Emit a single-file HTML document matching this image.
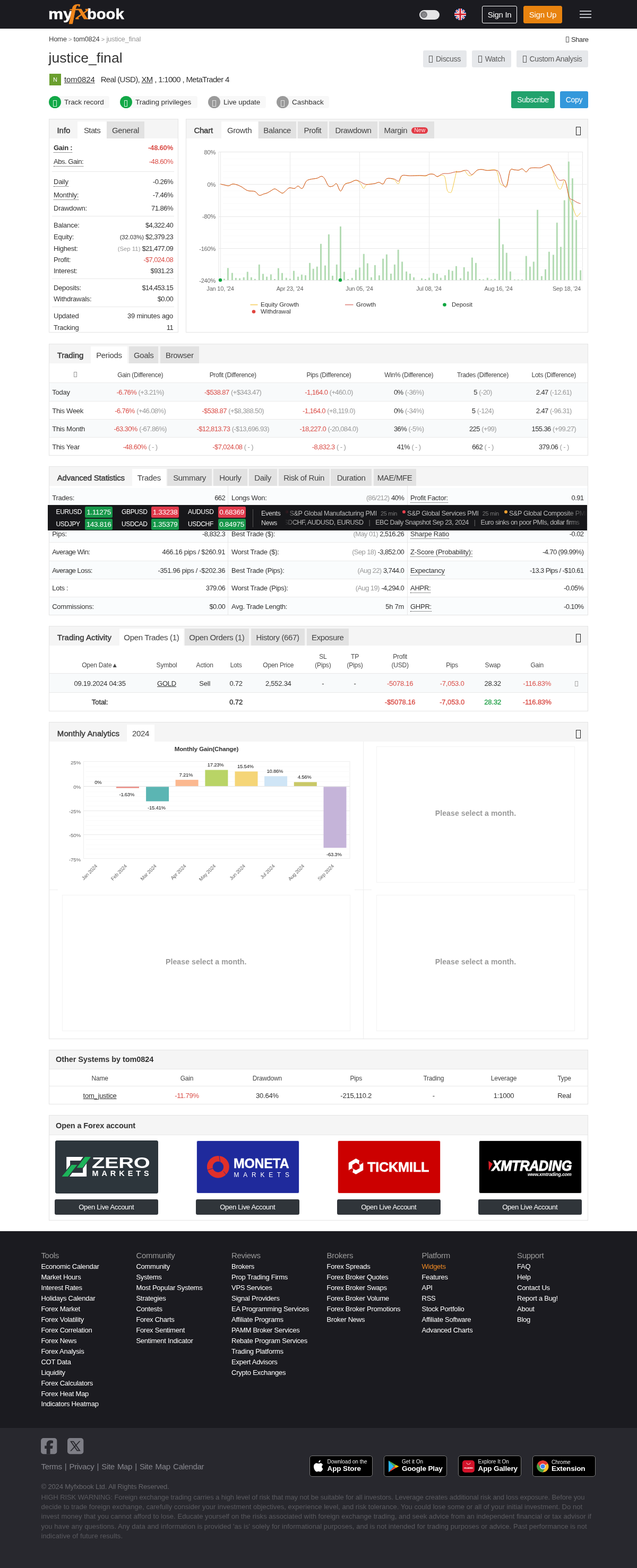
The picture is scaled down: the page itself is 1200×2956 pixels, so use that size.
<!DOCTYPE html>
<html lang="en">
<head>
<meta charset="utf-8">
<title>justice_final System by tom0824 | Myfxbook</title>
<style>
*{box-sizing:border-box}
html,body{margin:0;padding:0}
body{width:1200px;height:2956px;position:relative;overflow:hidden;background:#fff;color:#333;
 font-family:"Liberation Sans",sans-serif;font-size:13px;line-height:1;letter-spacing:-0.25px}
a{color:inherit;text-decoration:none}
.abs{position:absolute}
.u{text-decoration:underline}
.red{color:#da4e48}
.sb{-webkit-text-stroke:0.35px currentColor;letter-spacing:-0.1px}
.grn{color:#27a24c}
.gry{color:#999}
.b{font-weight:bold}
.n{letter-spacing:-0.6px}
.tofu{display:inline-block;border:1px solid currentColor;vertical-align:middle}
/* header */
#hdr{position:absolute;left:0;top:0;width:1200px;height:54px;background:#1b1b20}
#logo{position:absolute;left:91px;top:0;height:54px;color:#fff;white-space:nowrap}
#logo .my{position:absolute;left:0;top:14px;font-weight:bold;font-size:27px;letter-spacing:0;transform:scaleX(1.17);transform-origin:0 0;-webkit-text-stroke:0.5px #fff}
#logo .fx{position:absolute;left:39px;top:2px;font-family:"Liberation Serif",serif;font-style:italic;font-weight:bold;font-size:41px;color:#f0861b;letter-spacing:-3px;transform:scaleX(1.22);transform-origin:0 0;z-index:2;-webkit-text-stroke:0.4px #f0861b}
#logo .book{position:absolute;left:73px;top:14px;font-weight:bold;font-size:27px;letter-spacing:0;transform:scaleX(1.08);transform-origin:0 0;-webkit-text-stroke:0.5px #fff}
.hbtn{position:absolute;top:11px;height:33px;border-radius:3px;font-size:15px;line-height:31px;text-align:center;color:#fff;letter-spacing:-0.3px}
/* panels */
.panel{position:absolute;border:1px solid #e4e4e4;background:#fff}
.phead{position:absolute;left:0;top:0;right:0;height:36px;background:#f5f5f5}
.tab{position:absolute;top:4px;height:32px;line-height:33px;font-size:15px;text-align:center;color:#444;letter-spacing:-0.35px;white-space:nowrap}
.tab.g{background:#e2e2e2}
.tab.w{background:#fff;top:4px;height:32px;line-height:33px}
.tab.l{font-weight:normal;color:#3a3a3a;background:none;letter-spacing:-0.15px;-webkit-text-stroke:0.45px #3a3a3a}
.row{position:absolute;left:0;right:0;white-space:nowrap}
.lbl{position:absolute;left:0;top:0}
.val{position:absolute;right:0;top:0;text-align:right}
.dot{border-bottom:1px dotted #333;padding-bottom:1px}
.c{position:absolute;text-align:center;white-space:nowrap;transform:translateX(-50%)}
.hl{position:absolute;height:1px;background:#e8e8e8}
.vl{position:absolute;width:1px;background:#e8e8e8}
</style>
</head>
<body>
<div id="hdr">
  <div id="logo"><span class="my">my</span><span class="fx">fx</span><span class="book">book</span></div>
  <div class="abs" style="left:790px;top:19px;width:38px;height:18px;border-radius:9px;background:#e4e4e6">
    <div class="abs" style="left:2.2px;top:2.3px;width:13.2px;height:13.2px;border-radius:7px;background:#7a7a7e"></div>
    <div class="abs" style="left:5.800px;top:5.900px;width:6px;height:6px;border-radius:3px;border:1px solid #a2a2a6"></div>
  </div>
  <svg class="abs" style="left:856px;top:16px;border-radius:50%;overflow:hidden" width="22" height="22" viewBox="0 0 24 24">
    <g>
      <rect width="24" height="24" fill="#1b3a8c"/>
      <path d="M0 0L24 24M24 0L0 24" stroke="#fff" stroke-width="4"/>
      <path d="M0 0L24 24M24 0L0 24" stroke="#d21f2d" stroke-width="1.3"/>
      <path d="M12 0V24M0 12H24" stroke="#fff" stroke-width="6.800"/>
      <path d="M12 0V24M0 12H24" stroke="#d21f2d" stroke-width="3.400"/>
    </g>
  </svg>
  <div class="hbtn" style="left:908px;width:66px;border:1px solid #fff">Sign In</div>
  <div class="hbtn" style="left:986px;width:73px;background:#e8830f;border:1px solid #e8830f">Sign Up</div>
  <div class="abs" style="left:1092px;top:20px;width:22px;height:2px;background:#bfc2c8"></div>
  <div class="abs" style="left:1092px;top:26px;width:22px;height:2px;background:#bfc2c8"></div>
  <div class="abs" style="left:1092px;top:32px;width:22px;height:2px;background:#bfc2c8"></div>
</div>

<!-- breadcrumb / title -->
<div class="abs" style="left:92px;top:67px;font-size:13px;letter-spacing:-0.25px;white-space:nowrap;color:#444">Home <span class="gry" style="font-size:11px">&gt;</span> tom0824 <span class="gry" style="font-size:11px">&gt;</span> <span class="gry">justice_final</span></div>
<div class="abs" style="left:1066px;top:68px;font-size:13px;letter-spacing:-0.4px;white-space:nowrap;color:#333"><span class="tofu" style="width:6px;height:11px;margin:-2px 4px 0 0;color:#666"></span>Share</div>
<h1 class="abs" style="left:91.5px;top:95.5px;margin:0;font-size:26.5px;font-weight:normal;letter-spacing:0.05px;color:#333;white-space:nowrap">justice_final</h1>

<div class="abs" style="left:797px;top:95px;width:82px;height:32px;border-radius:3px;background:#e6e8eb;color:#5c5c5c;font-size:14px;line-height:32px;text-align:center;letter-spacing:-0.3px"><span class="tofu" style="width:7px;height:13px;margin:-1px 6px 0 0"></span>Discuss</div>
<div class="abs" style="left:889px;top:95px;width:74px;height:32px;border-radius:3px;background:#e6e8eb;color:#5c5c5c;font-size:14px;line-height:32px;text-align:center;letter-spacing:-0.3px"><span class="tofu" style="width:7px;height:13px;margin:-1px 6px 0 0"></span>Watch</div>
<div class="abs" style="left:973px;top:95px;width:135px;height:32px;border-radius:3px;background:#e6e8eb;color:#5c5c5c;font-size:14px;line-height:32px;text-align:center;letter-spacing:-0.3px"><span class="tofu" style="width:7px;height:13px;margin:-1px 6px 0 0"></span>Custom Analysis</div>

<div class="abs" style="left:93px;top:139px;width:22px;height:22px;background:#6a9f2e;color:#fff;font-size:11px;line-height:22px;text-align:center;letter-spacing:0">N</div>
<div class="abs" style="left:121px;top:142px;font-size:15px;letter-spacing:-0.3px;white-space:nowrap;color:#333"><span class="u" style="letter-spacing:-0.1px">tom0824</span><span style="display:inline-block;width:11px"></span><span style="letter-spacing:-0.68px">Real (USD), <span class="u">XM</span> , 1:1000 , MetaTrader 4</span></div>

<!-- badges -->
<div class="abs" style="left:100px;top:181px;width:106px;height:23px;background:#f8f8f8;border-radius:4px"></div>
<div class="abs" style="left:234px;top:181px;width:138px;height:23px;background:#f8f8f8;border-radius:4px"></div>
<div class="abs" style="left:400px;top:181px;width:101px;height:23px;background:#f8f8f8;border-radius:4px"></div>
<div class="abs" style="left:530px;top:181px;width:90px;height:23px;background:#f8f8f8;border-radius:4px"></div>
<div class="abs" style="left:92px;top:181px;width:23px;height:23px;border-radius:12px;background:#12a847;color:#d8f5e0"><span class="tofu abs" style="left:8px;top:7.5px;width:6.5px;height:12.5px"></span></div>
<div class="abs" style="left:225.5px;top:181px;width:23px;height:23px;border-radius:12px;background:#12a847;color:#d8f5e0"><span class="tofu abs" style="left:8px;top:7.5px;width:6.5px;height:12.5px"></span></div>
<div class="abs" style="left:392px;top:181px;width:23px;height:23px;border-radius:12px;background:#9a9a9a;color:#e4e4e4"><span class="tofu abs" style="left:8px;top:7.5px;width:6.5px;height:12.5px"></span></div>
<div class="abs" style="left:521px;top:181px;width:23px;height:23px;border-radius:12px;background:#9a9a9a;color:#e4e4e4"><span class="tofu abs" style="left:8px;top:7.5px;width:6.5px;height:12.5px"></span></div>
<div class="abs" style="left:121px;top:186px;font-size:13.5px;letter-spacing:-0.05px;white-space:nowrap;color:#333">Track record</div>
<div class="abs" style="left:255px;top:186px;font-size:13.5px;letter-spacing:-0.05px;white-space:nowrap;color:#333">Trading privileges</div>
<div class="abs" style="left:421px;top:186px;font-size:13.5px;letter-spacing:-0.05px;white-space:nowrap;color:#333">Live update</div>
<div class="abs" style="left:550px;top:186px;font-size:13.5px;letter-spacing:-0.05px;white-space:nowrap;color:#333">Cashback</div>

<div class="abs" style="left:963px;top:172px;width:82px;height:32px;border-radius:3px;background:#21a26c;color:#fff;font-size:14px;line-height:32px;text-align:center;letter-spacing:-0.3px">Subscribe</div>
<div class="abs" style="left:1055px;top:172px;width:53px;height:32px;border-radius:3px;background:#3498db;color:#fff;font-size:14px;line-height:32px;text-align:center;letter-spacing:-0.3px">Copy</div>
<div class="panel" style="left:92px;top:224px;width:244px;height:403px">
<div class="phead"></div>
<div class="tab l" style="left:14.5px;text-align:left;letter-spacing:-0.06px">Info</div>
<div class="tab w" style="left:53px;width:55px;letter-spacing:-0.6px">Stats</div>
<div class="tab g" style="left:108px;width:71px">General</div>
<div class="row" style="top:47.3px;left:8px;right:9px;height:14px;line-height:14px"><span class="lbl"><span class="dot b">Gain :</span></span><span class="val" style="letter-spacing:-0.65px"><span class="red b" style="letter-spacing:-0.2px">-48.60%</span></span></div>
<div class="row" style="top:72.5px;left:8px;right:9px;height:14px;line-height:14px"><span class="lbl"><span class="dot" style="letter-spacing:-0.45px">Abs. Gain:</span></span><span class="val" style="letter-spacing:-0.65px"><span class="red" style="letter-spacing:-0.45px">-48.60%</span></span></div>
<div class="row" style="top:110.5px;left:8px;right:9px;height:14px;line-height:14px"><span class="lbl"><span class="dot">Daily</span></span><span class="val" style="letter-spacing:-0.65px"><span style="letter-spacing:-0.5px">-0.26%</span></span></div>
<div class="row" style="top:136.0px;left:8px;right:9px;height:14px;line-height:14px"><span class="lbl"><span class="dot">Monthly:</span></span><span class="val" style="letter-spacing:-0.65px"><span style="letter-spacing:-0.5px">-7.46%</span></span></div>
<div class="row" style="top:160.9px;left:8px;right:9px;height:14px;line-height:14px"><span class="lbl">Drawdown:</span><span class="val" style="letter-spacing:-0.65px"><span style="letter-spacing:-0.5px">71.86%</span></span></div>
<div class="row" style="top:192.6px;left:8px;right:9px;height:14px;line-height:14px"><span class="lbl">Balance:</span><span class="val" style="letter-spacing:-0.65px">$4,322.40</span></div>
<div class="row" style="top:214.8px;left:8px;right:9px;height:14px;line-height:14px"><span class="lbl">Equity:</span><span class="val" style="letter-spacing:-0.65px"><span style="font-size:11.4px;letter-spacing:-0.1px">(32.03%)</span> $2,379.23</span></div>
<div class="row" style="top:236.6px;left:8px;right:9px;height:14px;line-height:14px"><span class="lbl">Highest:</span><span class="val" style="letter-spacing:-0.65px"><span class="gry" style="font-size:11.4px;letter-spacing:0">(Sep 11)</span> $21,477.09</span></div>
<div class="row" style="top:257.7px;left:8px;right:9px;height:14px;line-height:14px"><span class="lbl">Profit:</span><span class="val" style="letter-spacing:-0.65px"><span class="red">-$7,024.08</span></span></div>
<div class="row" style="top:279.1px;left:8px;right:9px;height:14px;line-height:14px"><span class="lbl">Interest:</span><span class="val" style="letter-spacing:-0.65px">$931.23</span></div>
<div class="row" style="top:310.8px;left:8px;right:9px;height:14px;line-height:14px"><span class="lbl">Deposits:</span><span class="val" style="letter-spacing:-0.65px">$14,453.15</span></div>
<div class="row" style="top:331.8px;left:8px;right:9px;height:14px;line-height:14px"><span class="lbl">Withdrawals:</span><span class="val" style="letter-spacing:-0.65px">$0.00</span></div>
<div class="row" style="top:363.6px;left:8px;right:9px;height:14px;line-height:14px"><span class="lbl">Updated</span><span class="val" style="letter-spacing:-0.65px"><span style="letter-spacing:-0.2px">39 minutes ago</span></span></div>
<div class="row" style="top:385.8px;left:8px;right:9px;height:14px;line-height:14px"><span class="lbl">Tracking</span><span class="val" style="letter-spacing:-0.65px">11</span></div>
<div class="hl" style="left:5px;right:7px;top:98px"></div>
<div class="hl" style="left:5px;right:7px;top:182px"></div>
<div class="hl" style="left:5px;right:7px;top:300px"></div>
<div class="hl" style="left:5px;right:7px;top:353px"></div>
</div>
<div class="panel" style="left:350px;top:224px;width:758px;height:403px">
<div class="phead"></div>
<div class="tab l" style="left:14.5px;text-align:left;letter-spacing:-0.28px">Chart</div>
<div class="tab w" style="left:65.5px;width:69px">Growth</div>
<div class="tab g" style="left:135.5px;width:71.5px">Balance</div>
<div class="tab g" style="left:210px;width:56px">Profit</div>
<div class="tab g" style="left:269px;width:91px">Drawdown</div>
<div class="tab g" style="left:362.5px;width:104.5px;text-align:left;padding-left:10px">Margin<span style="display:inline-block;margin-left:8px;background:#e23a45;color:#ffe3e5;font-size:10.5px;line-height:11.5px;height:11.5px;padding:0 5px;border-radius:6px;vertical-align:2px;letter-spacing:0">New</span></div>
<span class="tofu abs" style="left:734px;top:14px;width:9px;height:16px;color:#222"></span>
<svg class="abs" style="left:0;top:0" width="756" height="401" viewBox="351 225 756 401" font-family="Liberation Sans, sans-serif">
<rect x="412.0" y="286.5" width="685.5" height="242.0" fill="#fff" stroke="#e5e5e5" stroke-width="1"/>
<path d="M420.0 299.5H1097.5" stroke="#fafafa" stroke-width="1"/>
<path d="M420.0 311.5H1097.5" stroke="#fafafa" stroke-width="1"/>
<path d="M420.0 323.5H1097.5" stroke="#fafafa" stroke-width="1"/>
<path d="M420.0 335.5H1097.5" stroke="#fafafa" stroke-width="1"/>
<path d="M412.0 347.5H1105.5" stroke="#e7e7e7" stroke-width="1"/>
<path d="M420.0 359.5H1097.5" stroke="#fafafa" stroke-width="1"/>
<path d="M420.0 371.5H1097.5" stroke="#fafafa" stroke-width="1"/>
<path d="M420.0 383.5H1097.5" stroke="#fafafa" stroke-width="1"/>
<path d="M420.0 395.5H1097.5" stroke="#fafafa" stroke-width="1"/>
<path d="M412.0 408.5H1105.5" stroke="#e7e7e7" stroke-width="1"/>
<path d="M420.0 420.5H1097.5" stroke="#fafafa" stroke-width="1"/>
<path d="M420.0 432.5H1097.5" stroke="#fafafa" stroke-width="1"/>
<path d="M420.0 444.5H1097.5" stroke="#fafafa" stroke-width="1"/>
<path d="M420.0 456.5H1097.5" stroke="#fafafa" stroke-width="1"/>
<path d="M412.0 468.5H1105.5" stroke="#e7e7e7" stroke-width="1"/>
<path d="M420.0 480.5H1097.5" stroke="#fafafa" stroke-width="1"/>
<path d="M420.0 492.5H1097.5" stroke="#fafafa" stroke-width="1"/>
<path d="M420.0 504.5H1097.5" stroke="#fafafa" stroke-width="1"/>
<path d="M420.0 516.5H1097.5" stroke="#fafafa" stroke-width="1"/>
<path d="M415.5 286.5V528.5" stroke="#e9e9e9" stroke-width="1"/>
<path d="M546.5 286.5V528.5" stroke="#e9e9e9" stroke-width="1"/>
<path d="M677.5 286.5V528.5" stroke="#e9e9e9" stroke-width="1"/>
<path d="M808.5 286.5V528.5" stroke="#e9e9e9" stroke-width="1"/>
<path d="M939.5 286.5V528.5" stroke="#e9e9e9" stroke-width="1"/>
<path d="M1070.5 286.5V528.5" stroke="#e9e9e9" stroke-width="1"/>
<rect x="421.0" y="525.5" width="3" height="2.5" fill="#b3dbb3"/>
<rect x="427.9" y="505.3" width="3" height="22.7" fill="#b3dbb3"/>
<rect x="435.9" y="514.5" width="3" height="13.5" fill="#b3dbb3"/>
<rect x="442.8" y="523.9" width="3" height="4.1" fill="#b3dbb3"/>
<rect x="450.1" y="524.6" width="3" height="3.4" fill="#b3dbb3"/>
<rect x="457.7" y="522.8" width="3" height="5.2" fill="#b3dbb3"/>
<rect x="464.8" y="512.4" width="3" height="15.6" fill="#b3dbb3"/>
<rect x="471.9" y="522.8" width="3" height="5.2" fill="#b3dbb3"/>
<rect x="478.8" y="525.8" width="3" height="2.2" fill="#b3dbb3"/>
<rect x="486.8" y="498.7" width="3" height="29.3" fill="#b3dbb3"/>
<rect x="494.0" y="516.3" width="3" height="11.7" fill="#b3dbb3"/>
<rect x="501.1" y="521.6" width="3" height="6.4" fill="#b3dbb3"/>
<rect x="508.9" y="517.3" width="3" height="10.7" fill="#b3dbb3"/>
<rect x="516.0" y="526.0" width="3" height="2.0" fill="#b3dbb3"/>
<rect x="522.9" y="505.6" width="3" height="22.4" fill="#b3dbb3"/>
<rect x="530.0" y="514.7" width="3" height="13.3" fill="#b3dbb3"/>
<rect x="537.8" y="523.7" width="3" height="4.3" fill="#b3dbb3"/>
<rect x="544.9" y="525.5" width="3" height="2.5" fill="#b3dbb3"/>
<rect x="552.0" y="510.6" width="3" height="17.4" fill="#b3dbb3"/>
<rect x="560.0" y="521.6" width="3" height="6.4" fill="#b3dbb3"/>
<rect x="566.9" y="517.7" width="3" height="10.3" fill="#b3dbb3"/>
<rect x="574.0" y="518.9" width="3" height="9.1" fill="#b3dbb3"/>
<rect x="582.1" y="495.7" width="3" height="32.3" fill="#b3dbb3"/>
<rect x="588.7" y="506.7" width="3" height="21.3" fill="#b3dbb3"/>
<rect x="595.8" y="502.6" width="3" height="25.4" fill="#b3dbb3"/>
<rect x="603.0" y="459.7" width="3" height="68.3" fill="#b3dbb3"/>
<rect x="611.0" y="500.5" width="3" height="27.5" fill="#b3dbb3"/>
<rect x="617.9" y="441.8" width="3" height="86.2" fill="#b3dbb3"/>
<rect x="625.0" y="519.8" width="3" height="8.2" fill="#b3dbb3"/>
<rect x="632.8" y="498.7" width="3" height="29.3" fill="#b3dbb3"/>
<rect x="640.0" y="426.9" width="3" height="101.1" fill="#b3dbb3"/>
<rect x="646.9" y="512.4" width="3" height="15.6" fill="#b3dbb3"/>
<rect x="654.2" y="526.0" width="3" height="2.0" fill="#b3dbb3"/>
<rect x="661.8" y="523.9" width="3" height="4.1" fill="#b3dbb3"/>
<rect x="668.9" y="508.5" width="3" height="19.5" fill="#b3dbb3"/>
<rect x="676.0" y="504.4" width="3" height="23.6" fill="#b3dbb3"/>
<rect x="683.8" y="478.7" width="3" height="49.3" fill="#b3dbb3"/>
<rect x="690.9" y="496.4" width="3" height="31.6" fill="#b3dbb3"/>
<rect x="698.0" y="522.8" width="3" height="5.2" fill="#b3dbb3"/>
<rect x="704.9" y="499.8" width="3" height="28.2" fill="#b3dbb3"/>
<rect x="712.9" y="519.1" width="3" height="8.9" fill="#b3dbb3"/>
<rect x="720.1" y="487.7" width="3" height="40.3" fill="#b3dbb3"/>
<rect x="726.9" y="479.6" width="3" height="48.4" fill="#b3dbb3"/>
<rect x="735.0" y="515.9" width="3" height="12.1" fill="#b3dbb3"/>
<rect x="741.9" y="498.7" width="3" height="29.3" fill="#b3dbb3"/>
<rect x="748.7" y="470.7" width="3" height="57.3" fill="#b3dbb3"/>
<rect x="756.1" y="493.4" width="3" height="34.6" fill="#b3dbb3"/>
<rect x="764.1" y="511.8" width="3" height="16.2" fill="#b3dbb3"/>
<rect x="771.0" y="515.9" width="3" height="12.1" fill="#b3dbb3"/>
<rect x="778.1" y="522.8" width="3" height="5.2" fill="#b3dbb3"/>
<rect x="793.0" y="524.6" width="3" height="3.4" fill="#b3dbb3"/>
<rect x="799.9" y="526.0" width="3" height="2.0" fill="#b3dbb3"/>
<rect x="807.0" y="523.5" width="3" height="4.5" fill="#b3dbb3"/>
<rect x="815.1" y="514.7" width="3" height="13.3" fill="#b3dbb3"/>
<rect x="821.9" y="516.3" width="3" height="11.7" fill="#b3dbb3"/>
<rect x="828.8" y="523.7" width="3" height="4.3" fill="#b3dbb3"/>
<rect x="836.9" y="518.9" width="3" height="9.1" fill="#b3dbb3"/>
<rect x="844.0" y="508.5" width="3" height="19.5" fill="#b3dbb3"/>
<rect x="850.8" y="510.6" width="3" height="17.4" fill="#b3dbb3"/>
<rect x="858.0" y="501.7" width="3" height="26.3" fill="#b3dbb3"/>
<rect x="866.1" y="524.6" width="3" height="3.4" fill="#b3dbb3"/>
<rect x="872.7" y="503.7" width="3" height="24.3" fill="#b3dbb3"/>
<rect x="880.1" y="511.8" width="3" height="16.2" fill="#b3dbb3"/>
<rect x="887.9" y="485.6" width="3" height="42.4" fill="#b3dbb3"/>
<rect x="895.0" y="495.7" width="3" height="32.3" fill="#b3dbb3"/>
<rect x="902.1" y="526.0" width="3" height="2.0" fill="#b3dbb3"/>
<rect x="909.0" y="526.7" width="3" height="1.3" fill="#b3dbb3"/>
<rect x="916.8" y="523.7" width="3" height="4.3" fill="#b3dbb3"/>
<rect x="924.1" y="526.7" width="3" height="1.3" fill="#b3dbb3"/>
<rect x="931.0" y="525.8" width="3" height="2.2" fill="#b3dbb3"/>
<rect x="939.0" y="412.4" width="3" height="115.6" fill="#b3dbb3"/>
<rect x="945.9" y="460.6" width="3" height="67.4" fill="#b3dbb3"/>
<rect x="952.8" y="476.6" width="3" height="51.4" fill="#b3dbb3"/>
<rect x="959.9" y="511.8" width="3" height="16.2" fill="#b3dbb3"/>
<rect x="968.0" y="526.9" width="3" height="1.1" fill="#b3dbb3"/>
<rect x="974.8" y="526.9" width="3" height="1.1" fill="#b3dbb3"/>
<rect x="982.0" y="526.9" width="3" height="1.1" fill="#b3dbb3"/>
<rect x="989.8" y="482.6" width="3" height="45.4" fill="#b3dbb3"/>
<rect x="996.9" y="502.6" width="3" height="25.4" fill="#b3dbb3"/>
<rect x="1003.8" y="493.4" width="3" height="34.6" fill="#b3dbb3"/>
<rect x="1011.1" y="395.6" width="3" height="132.4" fill="#b3dbb3"/>
<rect x="1018.9" y="520.5" width="3" height="7.5" fill="#b3dbb3"/>
<rect x="1026.0" y="507.6" width="3" height="20.4" fill="#b3dbb3"/>
<rect x="1032.9" y="474.6" width="3" height="53.4" fill="#b3dbb3"/>
<rect x="1040.9" y="480.3" width="3" height="47.7" fill="#b3dbb3"/>
<rect x="1047.8" y="419.7" width="3" height="108.3" fill="#b3dbb3"/>
<rect x="1054.9" y="465.4" width="3" height="62.6" fill="#b3dbb3"/>
<rect x="1061.8" y="377.5" width="3" height="150.5" fill="#b3dbb3"/>
<rect x="1069.8" y="304.6" width="3" height="223.4" fill="#b3dbb3"/>
<rect x="1076.9" y="336.2" width="3" height="191.8" fill="#b3dbb3"/>
<rect x="1084.1" y="414.7" width="3" height="113.3" fill="#b3dbb3"/>
<rect x="1092.1" y="509.5" width="3" height="18.5" fill="#b3dbb3"/>
<path d="M415.4 347.0C416.6 347.3 420.4 348.3 422.9 348.8C425.4 349.4 428.6 350.5 431.0 350.2C433.4 349.9 435.5 347.3 437.9 347.0C440.2 346.7 443.1 347.3 445.9 348.2C448.6 349.0 451.8 350.5 455.1 352.3C458.4 354.1 462.5 358.0 466.5 359.4C470.6 360.8 476.8 359.6 480.3 361.0C483.8 362.4 485.8 367.6 488.3 368.3C490.9 369.1 494.0 366.6 496.4 365.8C498.8 365.1 501.1 364.7 503.3 363.8C505.5 362.8 507.9 361.1 510.1 359.9C512.4 358.6 515.1 355.9 517.5 356.0C519.9 356.0 522.7 359.0 525.1 360.3C527.4 361.6 529.9 364.2 531.9 364.2C534.0 364.2 535.6 361.9 537.7 360.3C539.8 358.7 542.3 354.9 545.0 354.1C547.8 353.3 552.3 355.8 554.9 355.3C557.5 354.7 559.0 350.7 561.3 350.7C563.6 350.7 566.9 356.7 569.3 355.3C571.8 353.9 574.4 344.7 576.7 342.0C579.0 339.2 580.3 339.2 583.6 338.3C586.9 337.3 593.9 336.9 597.3 336.0C600.8 335.0 603.2 332.3 605.4 332.3C607.6 332.4 608.9 333.3 611.1 336.2C613.3 339.2 616.6 348.4 619.1 350.7C621.7 353.0 624.8 351.3 627.2 350.7C629.6 350.0 631.8 345.0 634.1 346.5C636.3 348.1 639.0 360.2 641.5 360.3C643.9 360.4 646.6 349.9 649.5 347.2C652.4 344.6 656.4 345.0 659.8 343.8C663.2 342.6 667.7 339.2 670.8 339.7C674.0 340.1 677.1 344.0 679.3 346.5C681.6 349.0 683.2 355.0 685.1 355.3C686.9 355.5 687.5 349.6 690.8 348.2C694.1 346.7 702.1 346.8 705.7 346.1C709.4 345.4 711.2 343.5 713.8 343.6C716.3 343.7 719.4 347.9 721.8 346.8C724.2 345.7 725.4 338.0 728.7 336.7C732.0 335.4 738.9 336.9 742.4 338.5C745.9 340.1 748.1 347.7 750.5 346.5C752.9 345.4 753.9 333.8 757.4 331.4C760.8 329.0 766.9 331.5 772.3 331.4C777.6 331.3 785.9 330.9 790.6 330.9C795.4 331.0 799.2 332.3 802.1 331.9C805.0 331.5 806.6 328.9 809.0 328.4C811.4 327.9 814.6 327.9 817.0 328.6C819.4 329.4 821.9 332.9 823.9 333.2C825.9 333.6 827.4 330.9 829.6 330.9C831.8 330.9 835.6 328.9 837.7 333.2C839.7 337.6 840.8 353.3 842.3 358.0C843.7 362.7 845.4 362.4 846.8 362.6C848.3 362.8 849.4 365.2 851.4 359.2C853.5 353.1 858.1 330.4 859.5 324.7C860.8 319.1 858.6 324.2 860.0 324.1C861.4 323.9 865.6 324.0 868.0 323.6C870.4 323.2 872.7 320.3 874.9 321.3C877.1 322.3 879.6 328.6 881.8 330.0C884.0 331.5 885.9 332.0 888.7 330.5C891.4 329.0 895.9 322.6 899.0 320.8C902.1 319.0 905.3 319.2 908.2 319.2C911.1 319.3 913.1 321.0 917.4 321.3C921.6 321.6 930.7 317.6 934.6 321.3C938.4 325.0 939.3 339.7 941.5 344.2C943.7 348.8 946.3 349.3 948.3 350.0C950.4 350.7 952.5 353.4 954.5 348.8C956.6 344.2 958.7 325.9 961.0 321.3C963.3 316.7 966.4 320.2 969.0 320.2C971.6 320.1 974.6 321.1 977.0 320.8C979.4 320.6 981.6 317.8 983.9 318.3C986.2 318.8 989.1 324.2 991.3 324.1C993.5 323.9 995.2 318.7 997.7 317.4C1000.2 316.2 1003.6 316.4 1006.9 316.3C1010.2 316.1 1015.0 316.9 1018.3 316.3C1021.6 315.6 1024.8 313.0 1027.5 312.1C1030.3 311.3 1033.3 309.1 1035.5 311.0C1037.7 312.8 1039.1 317.5 1041.3 323.6C1043.5 329.7 1046.9 343.6 1049.3 348.8C1051.7 354.1 1054.0 357.8 1056.2 356.4C1058.4 355.0 1061.4 341.7 1063.1 340.1C1064.7 338.5 1065.0 341.5 1066.5 346.5C1068.0 351.6 1070.4 365.2 1072.3 371.8C1074.1 378.4 1075.8 382.2 1078.0 387.8C1080.2 393.5 1083.5 405.3 1086.0 407.4C1088.5 409.4 1092.4 402.0 1093.6 400.9" fill="none" stroke="#f2c230" stroke-width="0.95"/>
<path d="M415.4 347.0C416.6 347.3 420.4 348.3 422.9 348.8C425.4 349.4 428.6 350.5 431.0 350.2C433.4 349.9 435.5 347.3 437.9 347.0C440.2 346.7 443.1 347.3 445.9 348.2C448.6 349.0 451.8 350.5 455.1 352.3C458.4 354.1 462.5 358.0 466.5 359.4C470.6 360.8 476.8 359.6 480.3 361.0C483.8 362.4 485.8 367.6 488.3 368.3C490.9 369.1 494.0 366.6 496.4 365.8C498.8 365.1 501.1 364.7 503.3 363.8C505.5 362.8 507.9 361.1 510.1 359.9C512.4 358.6 515.1 355.9 517.5 356.0C519.9 356.0 522.7 359.0 525.1 360.3C527.4 361.6 529.9 364.2 531.9 364.2C534.0 364.2 535.6 361.9 537.7 360.3C539.8 358.7 542.3 354.9 545.0 354.1C547.8 353.3 552.3 355.8 554.9 355.3C557.5 354.7 559.0 350.7 561.3 350.7C563.6 350.7 566.9 356.7 569.3 355.3C571.8 353.9 574.4 344.7 576.7 342.0C579.0 339.2 580.3 339.2 583.6 338.3C586.9 337.3 593.9 336.9 597.3 336.0C600.8 335.0 603.2 332.3 605.4 332.3C607.6 332.4 608.9 333.3 611.1 336.2C613.3 339.2 616.6 348.4 619.1 350.7C621.7 353.0 624.8 351.3 627.2 350.7C629.6 350.0 631.8 345.0 634.1 346.5C636.3 348.1 639.0 360.1 641.5 360.3C643.9 360.5 646.6 350.3 649.5 347.7C652.4 345.1 656.4 345.5 659.8 344.2C663.2 343.0 667.7 339.8 670.8 339.7C674.0 339.5 676.3 341.8 679.3 343.1C682.3 344.4 685.4 347.2 689.7 347.7C693.9 348.2 701.9 346.7 705.7 346.1C709.6 345.4 711.2 343.5 713.8 343.6C716.3 343.7 719.4 347.9 721.8 346.8C724.2 345.7 725.4 338.2 728.7 336.7C732.0 335.2 738.9 336.6 742.4 337.4C746.0 338.1 748.5 342.5 750.9 341.5C753.3 340.5 753.9 332.6 757.4 330.9C760.8 329.3 766.9 331.4 772.3 331.4C777.6 331.4 785.9 331.0 790.6 330.9C795.4 330.9 799.2 331.3 802.1 330.9C805.0 330.5 806.6 328.8 809.0 328.4C811.4 328.0 814.6 327.9 817.0 328.6C819.4 329.3 821.1 333.0 823.9 332.8C826.6 332.6 830.7 328.4 834.2 327.5C837.7 326.6 842.0 327.6 845.7 327.0C849.4 326.5 854.9 324.5 857.2 324.1C859.5 323.6 858.3 324.1 860.0 324.1C861.7 324.0 865.6 324.0 868.0 323.6C870.4 323.2 872.7 321.6 874.9 321.3C877.1 321.0 879.6 320.5 881.8 321.8C884.0 323.0 885.9 329.5 888.7 329.3C891.4 329.2 895.9 322.4 899.0 320.8C902.1 319.3 905.3 319.6 908.2 319.7C911.1 319.8 913.0 321.0 917.4 321.3C921.8 321.6 931.9 320.2 935.7 321.3C939.6 322.4 939.6 324.1 941.5 328.2C943.3 332.2 945.1 342.8 947.2 346.5C949.3 350.3 952.3 355.6 954.5 351.6C956.7 347.6 958.7 326.3 961.0 321.3C963.3 316.3 966.4 320.2 969.0 320.2C971.6 320.1 974.6 321.1 977.0 320.8C979.4 320.6 981.6 317.8 983.9 318.3C986.2 318.8 989.1 324.2 991.3 324.1C993.5 323.9 995.2 318.7 997.7 317.4C1000.2 316.2 1003.6 316.4 1006.9 316.3C1010.2 316.1 1015.0 316.9 1018.3 316.3C1021.6 315.6 1024.8 313.0 1027.5 312.1C1030.3 311.2 1033.3 309.1 1035.5 310.5C1037.7 312.0 1039.1 317.4 1041.3 321.3C1043.5 325.2 1047.1 332.1 1049.3 335.1C1051.5 338.1 1052.8 339.5 1055.0 340.1C1057.2 340.8 1061.2 338.2 1063.1 339.2C1064.9 340.2 1065.0 341.3 1066.5 346.5C1068.0 351.8 1070.1 366.8 1072.3 371.8C1074.5 376.7 1077.9 375.9 1080.3 377.5C1082.7 379.1 1085.0 380.6 1087.2 381.7C1089.3 382.7 1092.6 383.6 1093.6 383.9" fill="none" stroke="#cb4a2c" stroke-width="0.95"/>
<circle cx="415" cy="528" r="3.2" fill="#0fa640"/>
<circle cx="641" cy="528" r="3.2" fill="#0fa640"/>
<text x="406" y="291.0" text-anchor="end" font-size="11" fill="#666" letter-spacing="-0.2">80%</text>
<text x="406" y="351.5" text-anchor="end" font-size="11" fill="#666" letter-spacing="-0.2">0%</text>
<text x="406" y="412.0" text-anchor="end" font-size="11" fill="#666" letter-spacing="-0.2">-80%</text>
<text x="406" y="472.5" text-anchor="end" font-size="11" fill="#666" letter-spacing="-0.2">-160%</text>
<text x="406" y="533.0" text-anchor="end" font-size="11" fill="#666" letter-spacing="-0.2">-240%</text>
<text x="415" y="547.5" text-anchor="middle" font-size="11" fill="#666" letter-spacing="-0.2">Jan 10, '24</text>
<text x="546" y="547.5" text-anchor="middle" font-size="11" fill="#666" letter-spacing="-0.2">Apr 23, '24</text>
<text x="677" y="547.5" text-anchor="middle" font-size="11" fill="#666" letter-spacing="-0.2">Jun 05, '24</text>
<text x="808" y="547.5" text-anchor="middle" font-size="11" fill="#666" letter-spacing="-0.2">Jul 08, '24</text>
<text x="939" y="547.5" text-anchor="middle" font-size="11" fill="#666" letter-spacing="-0.2">Aug 16, '24</text>
<text x="1094" y="547.5" text-anchor="end" font-size="11" fill="#666" letter-spacing="-0.2">Sep 18, '24</text>
<path d="M471.5 574.5H485.5" stroke="#f7d67a" stroke-width="2"/>
<text x="491" y="578" font-size="11.5" fill="#333" letter-spacing="0">Equity Growth</text>
<path d="M650 574.5H665.5" stroke="#e59a94" stroke-width="2"/>
<text x="671" y="578" font-size="11.5" fill="#333" letter-spacing="0">Growth</text>
<circle cx="837.5" cy="574.5" r="3.3" fill="#0fa640"/>
<text x="851" y="578" font-size="11.5" fill="#333" letter-spacing="0">Deposit</text>
<circle cx="478" cy="587.5" r="3.3" fill="#e0443e"/>
<text x="491" y="591" font-size="11.5" fill="#333" letter-spacing="0">Withdrawal</text>
</svg>
</div>
<div class="panel" style="left:92px;top:648px;width:1016px;height:211px;">
<div class="phead"></div>
<div class="tab l" style="left:14.8px;text-align:left;letter-spacing:-0.14px">Trading</div>
<div class="tab w" style="left:77.6px;width:69.5px">Periods</div>
<div class="tab g" style="left:150.1px;width:55px">Goals</div>
<div class="tab g" style="left:208.6px;width:73.5px">Browser</div>
<div class="abs" style="left:0;right:0;top:73px;height:34px;background:#f8fafb"></div>
<div class="abs" style="left:0;right:0;top:142px;height:34px;background:#f8fafb"></div>
<div class="hl" style="left:0px;right:0px;top:72px;background:#ebebeb"></div>
<div class="hl" style="left:0px;right:0px;top:107px;background:#ebebeb"></div>
<div class="hl" style="left:0px;right:0px;top:141px;background:#ebebeb"></div>
<div class="hl" style="left:0px;right:0px;top:175px;background:#ebebeb"></div>
<span class="tofu abs" style="left:46px;top:52px;width:6px;height:10px;color:#999"></span>
<div class="c" style="left:171.2px;top:50.7px;height:14px;line-height:14px;font-size:12px;color:#444;letter-spacing:-0.3px">Gain (Difference)</div>
<div class="c" style="left:345.7px;top:50.7px;height:14px;line-height:14px;font-size:12px;color:#444;letter-spacing:-0.3px">Profit (Difference)</div>
<div class="c" style="left:526.5px;top:50.7px;height:14px;line-height:14px;font-size:12px;color:#444;letter-spacing:-0.3px">Pips (Difference)</div>
<div class="c" style="left:677.2px;top:50.7px;height:14px;line-height:14px;font-size:12px;color:#444;letter-spacing:-0.3px">Win% (Difference)</div>
<div class="c" style="left:816.4px;top:50.7px;height:14px;line-height:14px;font-size:12px;color:#444;letter-spacing:-0.3px">Trades (Difference)</div>
<div class="c" style="left:950.3px;top:50.7px;height:14px;line-height:14px;font-size:12px;color:#444;letter-spacing:-0.3px">Lots (Difference)</div>
<div class="abs" style="left:5.2px;top:84.1px;height:14px;line-height:14px;font-size:13px;white-space:nowrap;">Today</div>
<div class="c" style="left:171.2px;top:84.1px;height:14px;line-height:14px;font-size:13px;"><span class="red n">-6.76%</span> <span class="gry n">(+3.21%)</span></div>
<div class="c" style="left:345.7px;top:84.1px;height:14px;line-height:14px;font-size:13px;"><span class="red n">-$538.87</span> <span class="gry n">(+$343.47)</span></div>
<div class="c" style="left:526.5px;top:84.1px;height:14px;line-height:14px;font-size:13px;"><span class="red n">-1,164.0</span> <span class="gry n">(+460.0)</span></div>
<div class="c" style="left:677.2px;top:84.1px;height:14px;line-height:14px;font-size:13px;"><span class="n">0%</span> <span class="gry n">(-36%)</span></div>
<div class="c" style="left:816.4px;top:84.1px;height:14px;line-height:14px;font-size:13px;"><span class="n">5</span> <span class="gry n">(-20)</span></div>
<div class="c" style="left:950.3px;top:84.1px;height:14px;line-height:14px;font-size:13px;"><span class="n">2.47</span> <span class="gry n">(-12.61)</span></div>
<div class="abs" style="left:5.2px;top:118.9px;height:14px;line-height:14px;font-size:13px;white-space:nowrap;">This Week</div>
<div class="c" style="left:171.2px;top:118.9px;height:14px;line-height:14px;font-size:13px;"><span class="red n">-6.76%</span> <span class="gry n">(+46.08%)</span></div>
<div class="c" style="left:345.7px;top:118.9px;height:14px;line-height:14px;font-size:13px;"><span class="red n">-$538.87</span> <span class="gry n">(+$8,388.50)</span></div>
<div class="c" style="left:526.5px;top:118.9px;height:14px;line-height:14px;font-size:13px;"><span class="red n">-1,164.0</span> <span class="gry n">(+8,119.0)</span></div>
<div class="c" style="left:677.2px;top:118.9px;height:14px;line-height:14px;font-size:13px;"><span class="n">0%</span> <span class="gry n">(-34%)</span></div>
<div class="c" style="left:816.4px;top:118.9px;height:14px;line-height:14px;font-size:13px;"><span class="n">5</span> <span class="gry n">(-124)</span></div>
<div class="c" style="left:950.3px;top:118.9px;height:14px;line-height:14px;font-size:13px;"><span class="n">2.47</span> <span class="gry n">(-96.31)</span></div>
<div class="abs" style="left:5.2px;top:153.1px;height:14px;line-height:14px;font-size:13px;white-space:nowrap;">This Month</div>
<div class="c" style="left:171.2px;top:153.1px;height:14px;line-height:14px;font-size:13px;"><span class="red n">-63.30%</span> <span class="gry n">(-67.86%)</span></div>
<div class="c" style="left:345.7px;top:153.1px;height:14px;line-height:14px;font-size:13px;"><span class="red n">-$12,813.73</span> <span class="gry n">(-$13,696.93)</span></div>
<div class="c" style="left:526.5px;top:153.1px;height:14px;line-height:14px;font-size:13px;"><span class="red n">-18,227.0</span> <span class="gry n">(-20,084.0)</span></div>
<div class="c" style="left:677.2px;top:153.1px;height:14px;line-height:14px;font-size:13px;"><span class="n">36%</span> <span class="gry n">(-5%)</span></div>
<div class="c" style="left:816.4px;top:153.1px;height:14px;line-height:14px;font-size:13px;"><span class="n">225</span> <span class="gry n">(+99)</span></div>
<div class="c" style="left:950.3px;top:153.1px;height:14px;line-height:14px;font-size:13px;"><span class="n">155.36</span> <span class="gry n">(+99.27)</span></div>
<div class="abs" style="left:5.2px;top:187.4px;height:14px;line-height:14px;font-size:13px;white-space:nowrap;">This Year</div>
<div class="c" style="left:171.2px;top:187.4px;height:14px;line-height:14px;font-size:13px;"><span class="red n">-48.60%</span> <span class="gry n">( - )</span></div>
<div class="c" style="left:345.7px;top:187.4px;height:14px;line-height:14px;font-size:13px;"><span class="red n">-$7,024.08</span> <span class="gry n">( - )</span></div>
<div class="c" style="left:526.5px;top:187.4px;height:14px;line-height:14px;font-size:13px;"><span class="red n">-8,832.3</span> <span class="gry n">( - )</span></div>
<div class="c" style="left:677.2px;top:187.4px;height:14px;line-height:14px;font-size:13px;"><span class="n">41%</span> <span class="gry n">( - )</span></div>
<div class="c" style="left:816.4px;top:187.4px;height:14px;line-height:14px;font-size:13px;"><span class="n">662</span> <span class="gry n">( - )</span></div>
<div class="c" style="left:950.3px;top:187.4px;height:14px;line-height:14px;font-size:13px;"><span class="n">379.06</span> <span class="gry n">( - )</span></div>
</div>
<div class="panel" style="left:92px;top:879px;width:1016px;height:281px;">
<div class="phead"></div>
<div class="tab l" style="left:14.8px;text-align:left;letter-spacing:-0.21px">Advanced Statistics</div>
<div class="tab w" style="left:156.1px;width:63.5px">Trades</div>
<div class="tab g" style="left:222.1px;width:84px">Summary</div>
<div class="tab g" style="left:309.1px;width:63.5px">Hourly</div>
<div class="tab g" style="left:375.6px;width:53px">Daily</div>
<div class="tab g" style="left:431.6px;width:96px">Risk of Ruin</div>
<div class="tab g" style="left:530.1px;width:77px">Duration</div>
<div class="tab g" style="left:610.6px;width:80px">MAE/MFE</div>
<div class="abs" style="left:0;right:0;top:40px;height:34px;background:#fafcfd"></div>
<div class="abs" style="left:0;right:0;top:109px;height:33px;background:#fafcfd"></div>
<div class="abs" style="left:0;right:0;top:178px;height:33px;background:#fafcfd"></div>
<div class="abs" style="left:0;right:0;top:246px;height:33px;background:#fafcfd"></div>
<div class="hl" style="left:0px;right:0px;top:74px;background:#ebebeb"></div>
<div class="hl" style="left:0px;right:0px;top:108px;background:#ebebeb"></div>
<div class="hl" style="left:0px;right:0px;top:142px;background:#ebebeb"></div>
<div class="hl" style="left:0px;right:0px;top:177px;background:#ebebeb"></div>
<div class="hl" style="left:0px;right:0px;top:211px;background:#ebebeb"></div>
<div class="hl" style="left:0px;right:0px;top:245px;background:#ebebeb"></div>
<div class="vl" style="left:336px;top:36px;height:243px"></div>
<div class="vl" style="left:674px;top:36px;height:243px"></div>
<div class="abs" style="left:5.2px;top:52px;height:14px;line-height:14px;font-size:13px;white-space:nowrap;letter-spacing:-0.25px">Trades:</div>
<div class="abs" style="right:682.8px;top:52px;height:14px;line-height:14px;font-size:13px;white-space:nowrap;text-align:right;letter-spacing:-0.55px">662</div>
<div class="abs" style="left:343px;top:52px;height:14px;line-height:14px;font-size:13px;white-space:nowrap;">Longs Won:</div>
<div class="abs" style="right:345.9px;top:52px;height:14px;line-height:14px;font-size:13px;white-space:nowrap;text-align:right;"><span class="gry n">(86/212)</span> <span class="n">40%</span></div>
<div class="abs" style="left:680px;top:52px;height:14px;line-height:14px;font-size:13px;white-space:nowrap;"><span class="dot">Profit Factor:</span></div>
<div class="abs" style="right:7.5px;top:52px;height:14px;line-height:14px;font-size:13px;white-space:nowrap;text-align:right;letter-spacing:-0.6px">0.91</div>
<div class="abs" style="left:5.2px;top:85.8px;height:14px;line-height:14px;font-size:13px;white-space:nowrap;letter-spacing:-0.25px">Profitability:</div>
<div class="abs" style="right:682.8px;top:85.8px;height:14px;line-height:14px;font-size:13px;white-space:nowrap;text-align:right;letter-spacing:-0.55px"></div>
<div class="abs" style="left:343px;top:85.8px;height:14px;line-height:14px;font-size:13px;white-space:nowrap;">Shorts Won:</div>
<div class="abs" style="right:345.9px;top:85.8px;height:14px;line-height:14px;font-size:13px;white-space:nowrap;text-align:right;"><span class="gry n">(187/450)</span> <span class="n">42%</span></div>
<div class="abs" style="left:680px;top:85.8px;height:14px;line-height:14px;font-size:13px;white-space:nowrap;"><span class="dot">Standard Deviation:</span></div>
<div class="abs" style="right:7.5px;top:85.8px;height:14px;line-height:14px;font-size:13px;white-space:nowrap;text-align:right;letter-spacing:-0.6px">$451.469</div>
<div class="abs" style="left:5.2px;top:120px;height:14px;line-height:14px;font-size:13px;white-space:nowrap;letter-spacing:-0.25px">Pips:</div>
<div class="abs" style="right:682.8px;top:120px;height:14px;line-height:14px;font-size:13px;white-space:nowrap;text-align:right;letter-spacing:-0.55px">-8,832.3</div>
<div class="abs" style="left:343px;top:120px;height:14px;line-height:14px;font-size:13px;white-space:nowrap;">Best Trade ($):</div>
<div class="abs" style="right:345.9px;top:120px;height:14px;line-height:14px;font-size:13px;white-space:nowrap;text-align:right;"><span class="gry n">(May 01)</span> <span class="n">2,516.26</span></div>
<div class="abs" style="left:680px;top:120px;height:14px;line-height:14px;font-size:13px;white-space:nowrap;"><span class="dot">Sharpe Ratio</span></div>
<div class="abs" style="right:7.5px;top:120px;height:14px;line-height:14px;font-size:13px;white-space:nowrap;text-align:right;letter-spacing:-0.6px">-0.02</div>
<div class="abs" style="left:5.2px;top:154.3px;height:14px;line-height:14px;font-size:13px;white-space:nowrap;letter-spacing:-0.55px">Average Win:</div>
<div class="abs" style="right:682.8px;top:154.3px;height:14px;line-height:14px;font-size:13px;white-space:nowrap;text-align:right;letter-spacing:-0.3px">466.16 pips / $260.91</div>
<div class="abs" style="left:343px;top:154.3px;height:14px;line-height:14px;font-size:13px;white-space:nowrap;">Worst Trade ($):</div>
<div class="abs" style="right:345.9px;top:154.3px;height:14px;line-height:14px;font-size:13px;white-space:nowrap;text-align:right;"><span class="gry n">(Sep 18)</span> <span class="n">-3,852.00</span></div>
<div class="abs" style="left:680px;top:154.3px;height:14px;line-height:14px;font-size:13px;white-space:nowrap;"><span class="dot">Z-Score (Probability):</span></div>
<div class="abs" style="right:7.5px;top:154.3px;height:14px;line-height:14px;font-size:13px;white-space:nowrap;text-align:right;letter-spacing:-0.6px">-4.70 (99.99%)</div>
<div class="abs" style="left:5.2px;top:188.5px;height:14px;line-height:14px;font-size:13px;white-space:nowrap;letter-spacing:-0.55px">Average Loss:</div>
<div class="abs" style="right:682.8px;top:188.5px;height:14px;line-height:14px;font-size:13px;white-space:nowrap;text-align:right;letter-spacing:-0.3px">-351.96 pips / -$202.36</div>
<div class="abs" style="left:343px;top:188.5px;height:14px;line-height:14px;font-size:13px;white-space:nowrap;">Best Trade (Pips):</div>
<div class="abs" style="right:345.9px;top:188.5px;height:14px;line-height:14px;font-size:13px;white-space:nowrap;text-align:right;"><span class="gry n">(Aug 22)</span> <span class="n">3,744.0</span></div>
<div class="abs" style="left:680px;top:188.5px;height:14px;line-height:14px;font-size:13px;white-space:nowrap;"><span class="dot">Expectancy</span></div>
<div class="abs" style="right:7.5px;top:188.5px;height:14px;line-height:14px;font-size:13px;white-space:nowrap;text-align:right;letter-spacing:-0.6px">-13.3 Pips / -$10.61</div>
<div class="abs" style="left:5.2px;top:222.3px;height:14px;line-height:14px;font-size:13px;white-space:nowrap;letter-spacing:-0.25px">Lots :</div>
<div class="abs" style="right:682.8px;top:222.3px;height:14px;line-height:14px;font-size:13px;white-space:nowrap;text-align:right;letter-spacing:-0.55px">379.06</div>
<div class="abs" style="left:343px;top:222.3px;height:14px;line-height:14px;font-size:13px;white-space:nowrap;">Worst Trade (Pips):</div>
<div class="abs" style="right:345.9px;top:222.3px;height:14px;line-height:14px;font-size:13px;white-space:nowrap;text-align:right;"><span class="gry n">(Aug 19)</span> <span class="n">-4,294.0</span></div>
<div class="abs" style="left:680px;top:222.3px;height:14px;line-height:14px;font-size:13px;white-space:nowrap;"><span class="dot">AHPR:</span></div>
<div class="abs" style="right:7.5px;top:222.3px;height:14px;line-height:14px;font-size:13px;white-space:nowrap;text-align:right;letter-spacing:-0.6px">-0.05%</div>
<div class="abs" style="left:5.2px;top:256.5px;height:14px;line-height:14px;font-size:13px;white-space:nowrap;letter-spacing:-0.25px">Commissions:</div>
<div class="abs" style="right:682.8px;top:256.5px;height:14px;line-height:14px;font-size:13px;white-space:nowrap;text-align:right;letter-spacing:-0.55px">$0.00</div>
<div class="abs" style="left:343px;top:256.5px;height:14px;line-height:14px;font-size:13px;white-space:nowrap;">Avg. Trade Length:</div>
<div class="abs" style="right:345.9px;top:256.5px;height:14px;line-height:14px;font-size:13px;white-space:nowrap;text-align:right;">5h 7m</div>
<div class="abs" style="left:680px;top:256.5px;height:14px;line-height:14px;font-size:13px;white-space:nowrap;"><span class="dot">GHPR:</span></div>
<div class="abs" style="right:7.5px;top:256.5px;height:14px;line-height:14px;font-size:13px;white-space:nowrap;text-align:right;letter-spacing:-0.6px">-0.10%</div>
</div>
<div class="panel" style="left:92px;top:1180px;width:1016px;height:161px;">
<div class="phead"></div>
<div class="tab l" style="left:14.8px;text-align:left;letter-spacing:0.07px">Trading Activity</div>
<div class="tab w" style="left:132.1px;width:120.5px">Open Trades (1)</div>
<div class="tab g" style="left:254.6px;width:121.5px">Open Orders (1)</div>
<div class="tab g" style="left:379.6px;width:101px">History (667)</div>
<div class="tab g" style="left:484.6px;width:79.5px">Exposure</div>
<span class="tofu abs" style="left:992px;top:14px;width:9px;height:16px;color:#222"></span>
<div class="abs" style="left:0;right:0;top:89px;height:35px;background:#f8fafb"></div>
<div class="hl" style="left:0px;right:0px;top:88px;background:#e8e8e8"></div>
<div class="hl" style="left:0px;right:0px;top:124px;background:#e8e8e8"></div>
<div class="c" style="left:95.1px;top:65.5px;height:14px;line-height:14px;font-size:12px;color:#4a4a4a;letter-spacing:-0.2px">Open Date&#9650;</div>
<div class="c" style="left:221px;top:65.5px;height:14px;line-height:14px;font-size:12px;color:#4a4a4a;letter-spacing:-0.2px">Symbol</div>
<div class="c" style="left:292.7px;top:65.5px;height:14px;line-height:14px;font-size:12px;color:#4a4a4a;letter-spacing:-0.2px">Action</div>
<div class="c" style="left:351.6px;top:65.5px;height:14px;line-height:14px;font-size:12px;color:#4a4a4a;letter-spacing:-0.2px">Lots</div>
<div class="c" style="left:431.3px;top:65.5px;height:14px;line-height:14px;font-size:12px;color:#4a4a4a;letter-spacing:-0.2px">Open Price</div>
<div class="c" style="left:515.4px;top:49.8px;height:14px;line-height:14px;font-size:12px;color:#4a4a4a;letter-spacing:-0.2px">SL</div>
<div class="c" style="left:515.4px;top:65.5px;height:14px;line-height:14px;font-size:12px;color:#4a4a4a;letter-spacing:-0.2px">(Pips)</div>
<div class="c" style="left:575.5px;top:49.8px;height:14px;line-height:14px;font-size:12px;color:#4a4a4a;letter-spacing:-0.2px">TP</div>
<div class="c" style="left:575.5px;top:65.5px;height:14px;line-height:14px;font-size:12px;color:#4a4a4a;letter-spacing:-0.2px">(Pips)</div>
<div class="c" style="left:660.6px;top:49.8px;height:14px;line-height:14px;font-size:12px;color:#4a4a4a;letter-spacing:-0.2px">Profit</div>
<div class="c" style="left:660.6px;top:65.5px;height:14px;line-height:14px;font-size:12px;color:#4a4a4a;letter-spacing:-0.2px">(USD)</div>
<div class="c" style="left:758.6px;top:65.5px;height:14px;line-height:14px;font-size:12px;color:#4a4a4a;letter-spacing:-0.2px">Pips</div>
<div class="c" style="left:835.2px;top:65.5px;height:14px;line-height:14px;font-size:12px;color:#4a4a4a;letter-spacing:-0.2px">Swap</div>
<div class="c" style="left:918.7px;top:65.5px;height:14px;line-height:14px;font-size:12px;color:#4a4a4a;letter-spacing:-0.2px">Gain</div>
<div class="c" style="left:95.1px;top:100.8px;height:14px;line-height:14px;font-size:13px;">09.19.2024 04:35</div>
<div class="c" style="left:221px;top:100.8px;height:14px;line-height:14px;font-size:13px;"><span class="u">GOLD</span></div>
<div class="c" style="left:292.7px;top:100.8px;height:14px;line-height:14px;font-size:13px;">Sell</div>
<div class="c" style="left:351.6px;top:100.8px;height:14px;line-height:14px;font-size:13px;">0.72</div>
<div class="c" style="left:431.3px;top:100.8px;height:14px;line-height:14px;font-size:13px;">2,552.34</div>
<div class="c" style="left:515.4px;top:100.8px;height:14px;line-height:14px;font-size:13px;">-</div>
<div class="c" style="left:575.5px;top:100.8px;height:14px;line-height:14px;font-size:13px;">-</div>
<div class="c" style="left:660.6px;top:100.8px;height:14px;line-height:14px;font-size:13px;"><span class="red">-5078.16</span></div>
<div class="c" style="left:758.6px;top:100.8px;height:14px;line-height:14px;font-size:13px;"><span class="red">-7,053.0</span></div>
<div class="c" style="left:835.2px;top:100.8px;height:14px;line-height:14px;font-size:13px;">28.32</div>
<div class="c" style="left:918.7px;top:100.8px;height:14px;line-height:14px;font-size:13px;"><span class="red">-116.83%</span></div>
<span class="tofu abs" style="left:990px;top:103px;width:6px;height:10px;color:#aaa"></span>
<div class="c" style="left:95.1px;top:136.1px;height:14px;line-height:14px;font-size:13px;"><span class="sb">Total:</span></div>
<div class="c" style="left:351.6px;top:136.1px;height:14px;line-height:14px;font-size:13px;"><span class="sb">0.72</span></div>
<div class="c" style="left:660.6px;top:136.1px;height:14px;line-height:14px;font-size:13px;"><span class="sb red">-$5078.16</span></div>
<div class="c" style="left:758.6px;top:136.1px;height:14px;line-height:14px;font-size:13px;"><span class="sb red">-7,053.0</span></div>
<div class="c" style="left:835.2px;top:136.1px;height:14px;line-height:14px;font-size:13px;"><span class="sb grn">28.32</span></div>
<div class="c" style="left:918.7px;top:136.1px;height:14px;line-height:14px;font-size:13px;"><span class="sb red">-116.83%</span></div>
</div>
<div class="panel" style="left:92px;top:1979px;width:1016px;height:103px;">
<div class="phead"></div>
<div class="abs" style="left:12px;top:9.5px;height:14px;line-height:14px;font-size:14.5px;white-space:nowrap;letter-spacing:-0.08px;color:#333"><b>Other Systems by tom0824</b></div>
<div class="hl" style="left:0px;right:0px;top:35px;background:#e8e8e8"></div>
<div class="hl" style="left:0px;right:0px;top:67px;background:#e8e8e8"></div>
<div class="c" style="left:95.1px;top:45.5px;height:14px;line-height:14px;font-size:12px;color:#444;letter-spacing:-0.2px">Name</div>
<div class="c" style="left:259px;top:45.5px;height:14px;line-height:14px;font-size:12px;color:#444;letter-spacing:-0.2px">Gain</div>
<div class="c" style="left:410.4px;top:45.5px;height:14px;line-height:14px;font-size:12px;color:#444;letter-spacing:-0.2px">Drawdown</div>
<div class="c" style="left:577.7px;top:45.5px;height:14px;line-height:14px;font-size:12px;color:#444;letter-spacing:-0.2px">Pips</div>
<div class="c" style="left:723.8px;top:45.5px;height:14px;line-height:14px;font-size:12px;color:#444;letter-spacing:-0.2px">Trading</div>
<div class="c" style="left:856px;top:45.5px;height:14px;line-height:14px;font-size:12px;color:#444;letter-spacing:-0.2px">Leverage</div>
<div class="c" style="left:970px;top:45.5px;height:14px;line-height:14px;font-size:12px;color:#444;letter-spacing:-0.2px">Type</div>
<div class="c" style="left:95.1px;top:79.3px;height:14px;line-height:14px;font-size:13px;"><span class="u">tom_justice</span></div>
<div class="c" style="left:259px;top:79.3px;height:14px;line-height:14px;font-size:13px;"><span class="red">-11.79%</span></div>
<div class="c" style="left:410.4px;top:79.3px;height:14px;line-height:14px;font-size:13px;">30.64%</div>
<div class="c" style="left:577.7px;top:79.3px;height:14px;line-height:14px;font-size:13px;">-215,110.2</div>
<div class="c" style="left:723.8px;top:79.3px;height:14px;line-height:14px;font-size:13px;">-</div>
<div class="c" style="left:856px;top:79.3px;height:14px;line-height:14px;font-size:13px;">1:1000</div>
<div class="c" style="left:970px;top:79.3px;height:14px;line-height:14px;font-size:13px;">Real</div>
</div>
<div class="panel" style="left:92px;top:1361px;width:1016px;height:598px">
<div class="phead"></div>
<div class="tab l" style="left:14.8px;text-align:left;letter-spacing:0.09px">Monthly Analytics</div>
<div class="tab w" style="left:146px;width:52px">2024</div>
<span class="tofu abs" style="left:992px;top:14px;width:9px;height:16px;color:#222"></span>
<div class="vl" style="left:591px;top:36px;height:560px;background:#eeeeee"></div>
<div class="hl" style="left:0;width:16px;top:315px;background:#eeeeee"></div>
<div class="hl" style="left:575px;width:32px;top:315px;background:#eeeeee"></div>
<div class="hl" style="left:997px;width:18px;top:315px;background:#eeeeee"></div>
<div class="abs" style="left:616px;top:45px;width:374px;height:256.5px;border:1px solid #f3f3f3;background:#fff"></div>
<div class="c b" style="left:803px;top:162.75px;font-size:14px;line-height:16px;color:#999;letter-spacing:0.1px">Please select a month.</div>
<div class="abs" style="left:23.5px;top:325px;width:543.5px;height:257px;border:1px solid #f3f3f3;background:#fff"></div>
<div class="c b" style="left:295.25px;top:443px;font-size:14px;line-height:16px;color:#999;letter-spacing:0.1px">Please select a month.</div>
<div class="abs" style="left:616px;top:325px;width:374px;height:256.5px;border:1px solid #f3f3f3;background:#fff"></div>
<div class="c b" style="left:803px;top:442.75px;font-size:14px;line-height:16px;color:#999;letter-spacing:0.1px">Please select a month.</div>
<svg class="abs" style="left:0;top:36px" width="591" height="278" viewBox="93 1398 591 278" font-family="Liberation Sans, sans-serif">
<rect x="157.5" y="1435.5" width="501.5" height="183.0" fill="#fff" stroke="#eeeeee"/>
<path d="M161.5 1445.5H659.0" stroke="#fafafa"/>
<path d="M161.5 1454.5H659.0" stroke="#fafafa"/>
<path d="M161.5 1464.5H659.0" stroke="#fafafa"/>
<path d="M161.5 1473.5H659.0" stroke="#fafafa"/>
<path d="M161.5 1492.5H659.0" stroke="#fafafa"/>
<path d="M161.5 1501.5H659.0" stroke="#fafafa"/>
<path d="M161.5 1510.5H659.0" stroke="#fafafa"/>
<path d="M161.5 1519.5H659.0" stroke="#fafafa"/>
<path d="M161.5 1538.5H659.0" stroke="#fafafa"/>
<path d="M161.5 1546.5H659.0" stroke="#fafafa"/>
<path d="M161.5 1556.5H659.0" stroke="#fafafa"/>
<path d="M161.5 1564.5H659.0" stroke="#fafafa"/>
<path d="M161.5 1582.5H659.0" stroke="#fafafa"/>
<path d="M161.5 1592.5H659.0" stroke="#fafafa"/>
<path d="M161.5 1600.5H659.0" stroke="#fafafa"/>
<path d="M161.5 1610.5H659.0" stroke="#fafafa"/>
<path d="M157.5 1482.5H659.0" stroke="#e2e2e2"/>
<path d="M157.5 1528.5H659.0" stroke="#e9e9e9"/>
<path d="M157.5 1573.5H659.0" stroke="#e9e9e9"/>
<text x="184.9" y="1477.5" text-anchor="middle" font-size="9.5" fill="#111">0%</text>
<rect x="219.0" y="1483.3" width="43" height="2.3" fill="#e8837a"/>
<text x="238.8" y="1500.5" text-anchor="middle" font-size="9.5" fill="#111">-1.63%</text>
<rect x="275.1" y="1483.3" width="43" height="27.3" fill="#5bb5b3"/>
<text x="294.9" y="1525.5" text-anchor="middle" font-size="9.5" fill="#111">-15.41%</text>
<rect x="330.6" y="1470.1" width="43" height="11.8" fill="#fbb88f"/>
<text x="350.4" y="1463.9" text-anchor="middle" font-size="9.5" fill="#111">7.21%</text>
<rect x="386.4" y="1451.5" width="43" height="30.4" fill="#b9d466"/>
<text x="406.2" y="1445.4" text-anchor="middle" font-size="9.5" fill="#111">17.23%</text>
<rect x="442.5" y="1454.4" width="43" height="27.5" fill="#f5d577"/>
<text x="462.3" y="1448.4" text-anchor="middle" font-size="9.5" fill="#111">15.54%</text>
<rect x="498.1" y="1463.3" width="43" height="18.6" fill="#cfe5f6"/>
<text x="517.9" y="1457.4" text-anchor="middle" font-size="9.5" fill="#111">10.86%</text>
<rect x="553.8" y="1474.4" width="43" height="7.5" fill="#c9c867"/>
<text x="573.6" y="1468.4" text-anchor="middle" font-size="9.5" fill="#111">4.56%</text>
<rect x="609.5" y="1483.3" width="43" height="115.0" fill="#c5b4d9"/>
<text x="629.3" y="1613.5" text-anchor="middle" font-size="9.5" fill="#111">-63.3%</text>
<text x="152" y="1440.5" text-anchor="end" font-size="9.8" fill="#666" letter-spacing="-0.2">25%</text>
<text x="152" y="1486.5" text-anchor="end" font-size="9.8" fill="#666" letter-spacing="-0.2">0%</text>
<text x="152" y="1532.7" text-anchor="end" font-size="9.8" fill="#666" letter-spacing="-0.2">-25%</text>
<text x="152" y="1577.5" text-anchor="end" font-size="9.8" fill="#666" letter-spacing="-0.2">-50%</text>
<text x="152" y="1623.5" text-anchor="end" font-size="9.8" fill="#666" letter-spacing="-0.2">-75%</text>
<text transform="translate(183.9 1633.5) rotate(-45)" text-anchor="end" font-size="9.4" fill="#666" letter-spacing="-0.2">Jan 2024</text>
<text transform="translate(239.6 1633.5) rotate(-45)" text-anchor="end" font-size="9.4" fill="#666" letter-spacing="-0.2">Feb 2024</text>
<text transform="translate(295.3 1633.5) rotate(-45)" text-anchor="end" font-size="9.4" fill="#666" letter-spacing="-0.2">Mar 2024</text>
<text transform="translate(351.0 1633.5) rotate(-45)" text-anchor="end" font-size="9.4" fill="#666" letter-spacing="-0.2">Apr 2024</text>
<text transform="translate(406.8 1633.5) rotate(-45)" text-anchor="end" font-size="9.4" fill="#666" letter-spacing="-0.2">May 2024</text>
<text transform="translate(462.5 1633.5) rotate(-45)" text-anchor="end" font-size="9.4" fill="#666" letter-spacing="-0.2">Jun 2024</text>
<text transform="translate(518.2 1633.5) rotate(-45)" text-anchor="end" font-size="9.4" fill="#666" letter-spacing="-0.2">Jul 2024</text>
<text transform="translate(573.9 1633.5) rotate(-45)" text-anchor="end" font-size="9.4" fill="#666" letter-spacing="-0.2">Aug 2024</text>
<text transform="translate(629.6 1633.5) rotate(-45)" text-anchor="end" font-size="9.4" fill="#666" letter-spacing="-0.2">Sep 2024</text>
<text x="389" y="1416" text-anchor="middle" font-size="11.5" font-weight="bold" fill="#333" letter-spacing="-0.1">Monthly Gain(Change)</text>
</svg>
</div>
<div class="panel" style="left:92px;top:2102px;width:1016px;height:199px">
<div class="phead"></div>
<div class="abs b" style="left:12px;top:10.5px;font-size:14.5px;line-height:16px;letter-spacing:-0.12px;color:#333;white-space:nowrap">Open a Forex account</div>
<div class="hl" style="left:0;right:0;top:36px"></div>
<div class="abs" style="left:11px;top:46.5px;width:194px;height:100px;border-radius:3px;background:#2d363c;border:1px solid #2d363c" id="card0"></div>
<div class="abs" style="left:10px;top:158px;width:194.5px;height:29px;border-radius:3px;background:#30353a;color:#fff;font-size:13px;line-height:29px;text-align:center;letter-spacing:-0.3px">Open Live Account</div>
<div class="abs" style="left:277px;top:46.5px;width:194px;height:100px;border-radius:3px;background:#1f2a9c;border:1px solid #dfe3f5" id="card1"></div>
<div class="abs" style="left:276px;top:158px;width:194.5px;height:29px;border-radius:3px;background:#30353a;color:#fff;font-size:13px;line-height:29px;text-align:center;letter-spacing:-0.3px">Open Live Account</div>
<div class="abs" style="left:543px;top:46.5px;width:194px;height:100px;border-radius:3px;background:#cc0000;border:1px solid #f5d0d0" id="card2"></div>
<div class="abs" style="left:542px;top:158px;width:194.5px;height:29px;border-radius:3px;background:#30353a;color:#fff;font-size:13px;line-height:29px;text-align:center;letter-spacing:-0.3px">Open Live Account</div>
<div class="abs" style="left:809px;top:46.5px;width:194px;height:100px;border-radius:3px;background:#000;border:1px solid #ddd" id="card3"></div>
<div class="abs" style="left:808px;top:158px;width:194.5px;height:29px;border-radius:3px;background:#30353a;color:#fff;font-size:13px;line-height:29px;text-align:center;letter-spacing:-0.3px">Open Live Account</div>
<svg class="abs" style="left:0;top:0" width="1014" height="197" viewBox="93 2103 1014 197" font-family="Liberation Sans, sans-serif">
<path d="M125.2 2181.0 L163.1 2181.0 L163.1 2218.0 L125.2 2218.0Z M132.1 2187.9 L132.1 2211.1 L156.2 2211.1 L156.2 2187.9Z" fill="#fff" fill-rule="evenodd"/>
<path d="M157.8 2179.4 L173.0 2179.4 L156.4 2202.4 L141.3 2202.4Z" fill="#2d363c"/>
<path d="M133.5 2194.8 L147.3 2194.8 L130.1 2219.6 L114.2 2219.6Z" fill="#2d363c"/>
<path d="M160.1 2181.0 L171.1 2181.0 L155.5 2201.4 L144.5 2201.4Z" fill="#1db45a"/>
<path d="M134.9 2195.9 L145.4 2195.9 L128.0 2218.0 L116.5 2218.0Z" fill="#1db45a"/>
<text x="173" y="2202.4" font-size="29" font-weight="bold" fill="#fff" textLength="109.5" lengthAdjust="spacingAndGlyphs">ZERO</text>
<text x="173.4" y="2217.3" font-size="14.4" font-weight="bold" fill="#fff" textLength="107" lengthAdjust="spacing">MARKETS</text>
<circle cx="410.9" cy="2199.8" r="15.6" fill="none" stroke="#e1302a" stroke-width="10.6"/>
<path d="M413 2179L414.5 2190M390.5 2206L401.5 2202.5M421 2208L427 2216" stroke="#1f2a9c" stroke-width="1"/>
<text x="439.9" y="2202.4" font-size="25.7" font-weight="bold" fill="#fff" stroke="#fff" stroke-width="0.4" textLength="104.6" lengthAdjust="spacingAndGlyphs">MONETA</text>
<text x="440.6" y="2218.9" font-size="11.9" fill="#fff" textLength="104" lengthAdjust="spacing">MARKETS</text>
<path d="M670.5 2184.0 L684.3 2192.0 L684.3 2206.0 L670.5 2213.8 L656.8 2206.0 L656.8 2192.0Z" fill="#fff"/>
<path d="M670.5 2192.0 L677.4 2195.9 L677.4 2202.4 L670.5 2206.0 L663.7 2202.4 L663.7 2195.9Z" fill="#cc0000"/>
<path d="M677.0 2187.7 L684.3 2192.0 L677.9 2195.9 L676.1 2193.6Z" fill="#cc0000"/>
<path d="M656.8 2206.0 L663.2 2202.4 L665.5 2204.7 L664.1 2210.2Z" fill="#cc0000"/>
<text x="692.1" y="2208.8" font-size="25" font-weight="bold" fill="#fff" stroke="#fff" stroke-width="0.5" textLength="116" lengthAdjust="spacingAndGlyphs">TICKMILL</text>
<path d="M920.3 2188.5L928 2194L921 2206.8Z" fill="#e0202a"/>
<text x="926.7" y="2207" font-size="27" font-weight="bold" font-style="italic" fill="#fff" stroke="#fff" stroke-width="1.1" textLength="150.5" lengthAdjust="spacingAndGlyphs">XMTRADING</text>
<text x="993.9" y="2216.6" font-size="9" font-weight="bold" font-style="italic" fill="#fff" textLength="82.6" lengthAdjust="spacingAndGlyphs">www.xmtrading.com</text>
</svg>
</div>
<div class="abs" style="left:0;top:2321px;width:1200px;height:371px;background:#1b1b20"></div>
<div class="abs" style="left:0;top:2692px;width:1200px;height:264px;background:#28282e"></div>
<div class="abs" style="left:77.4px;top:2358px;font-size:15px;line-height:18px;color:#9a9a9a;letter-spacing:-0.3px;white-space:nowrap">Tools</div>
<div class="abs" style="left:77.4px;top:2379.5px;font-size:13px;line-height:16px;color:#fff;letter-spacing:-0.25px;white-space:nowrap">Economic Calendar</div>
<div class="abs" style="left:77.4px;top:2399.5px;font-size:13px;line-height:16px;color:#fff;letter-spacing:-0.25px;white-space:nowrap">Market Hours</div>
<div class="abs" style="left:77.4px;top:2419.5px;font-size:13px;line-height:16px;color:#fff;letter-spacing:-0.25px;white-space:nowrap">Interest Rates</div>
<div class="abs" style="left:77.4px;top:2439.5px;font-size:13px;line-height:16px;color:#fff;letter-spacing:-0.25px;white-space:nowrap">Holidays Calendar</div>
<div class="abs" style="left:77.4px;top:2459.5px;font-size:13px;line-height:16px;color:#fff;letter-spacing:-0.25px;white-space:nowrap">Forex Market</div>
<div class="abs" style="left:77.4px;top:2479.5px;font-size:13px;line-height:16px;color:#fff;letter-spacing:-0.25px;white-space:nowrap">Forex Volatility</div>
<div class="abs" style="left:77.4px;top:2499.5px;font-size:13px;line-height:16px;color:#fff;letter-spacing:-0.25px;white-space:nowrap">Forex Correlation</div>
<div class="abs" style="left:77.4px;top:2519.5px;font-size:13px;line-height:16px;color:#fff;letter-spacing:-0.25px;white-space:nowrap">Forex News</div>
<div class="abs" style="left:77.4px;top:2539.5px;font-size:13px;line-height:16px;color:#fff;letter-spacing:-0.25px;white-space:nowrap">Forex Analysis</div>
<div class="abs" style="left:77.4px;top:2559.5px;font-size:13px;line-height:16px;color:#fff;letter-spacing:-0.25px;white-space:nowrap">COT Data</div>
<div class="abs" style="left:77.4px;top:2579.5px;font-size:13px;line-height:16px;color:#fff;letter-spacing:-0.25px;white-space:nowrap">Liquidity</div>
<div class="abs" style="left:77.4px;top:2599.5px;font-size:13px;line-height:16px;color:#fff;letter-spacing:-0.25px;white-space:nowrap">Forex Calculators</div>
<div class="abs" style="left:77.4px;top:2619.5px;font-size:13px;line-height:16px;color:#fff;letter-spacing:-0.25px;white-space:nowrap">Forex Heat Map</div>
<div class="abs" style="left:77.4px;top:2638.8px;font-size:13px;line-height:16px;color:#fff;letter-spacing:-0.25px;white-space:nowrap">Indicators Heatmap</div>
<div class="abs" style="left:256.4px;top:2358px;font-size:15px;line-height:18px;color:#9a9a9a;letter-spacing:-0.3px;white-space:nowrap">Community</div>
<div class="abs" style="left:256.4px;top:2379.5px;font-size:13px;line-height:16px;color:#fff;letter-spacing:-0.25px;white-space:nowrap">Community</div>
<div class="abs" style="left:256.4px;top:2399.5px;font-size:13px;line-height:16px;color:#fff;letter-spacing:-0.25px;white-space:nowrap">Systems</div>
<div class="abs" style="left:256.4px;top:2419.5px;font-size:13px;line-height:16px;color:#fff;letter-spacing:-0.25px;white-space:nowrap">Most Popular Systems</div>
<div class="abs" style="left:256.4px;top:2439.5px;font-size:13px;line-height:16px;color:#fff;letter-spacing:-0.25px;white-space:nowrap">Strategies</div>
<div class="abs" style="left:256.4px;top:2459.5px;font-size:13px;line-height:16px;color:#fff;letter-spacing:-0.25px;white-space:nowrap">Contests</div>
<div class="abs" style="left:256.4px;top:2479.5px;font-size:13px;line-height:16px;color:#fff;letter-spacing:-0.25px;white-space:nowrap">Forex Charts</div>
<div class="abs" style="left:256.4px;top:2499.5px;font-size:13px;line-height:16px;color:#fff;letter-spacing:-0.25px;white-space:nowrap">Forex Sentiment</div>
<div class="abs" style="left:256.4px;top:2519.5px;font-size:13px;line-height:16px;color:#fff;letter-spacing:-0.25px;white-space:nowrap">Sentiment Indicator</div>
<div class="abs" style="left:436px;top:2358px;font-size:15px;line-height:18px;color:#9a9a9a;letter-spacing:-0.3px;white-space:nowrap">Reviews</div>
<div class="abs" style="left:436px;top:2379.5px;font-size:13px;line-height:16px;color:#fff;letter-spacing:-0.25px;white-space:nowrap">Brokers</div>
<div class="abs" style="left:436px;top:2399.5px;font-size:13px;line-height:16px;color:#fff;letter-spacing:-0.25px;white-space:nowrap">Prop Trading Firms</div>
<div class="abs" style="left:436px;top:2419.5px;font-size:13px;line-height:16px;color:#fff;letter-spacing:-0.25px;white-space:nowrap">VPS Services</div>
<div class="abs" style="left:436px;top:2439.5px;font-size:13px;line-height:16px;color:#fff;letter-spacing:-0.25px;white-space:nowrap">Signal Providers</div>
<div class="abs" style="left:436px;top:2459.5px;font-size:13px;line-height:16px;color:#fff;letter-spacing:-0.25px;white-space:nowrap">EA Programming Services</div>
<div class="abs" style="left:436px;top:2479.5px;font-size:13px;line-height:16px;color:#fff;letter-spacing:-0.25px;white-space:nowrap">Affiliate Programs</div>
<div class="abs" style="left:436px;top:2499.5px;font-size:13px;line-height:16px;color:#fff;letter-spacing:-0.25px;white-space:nowrap">PAMM Broker Services</div>
<div class="abs" style="left:436px;top:2519.5px;font-size:13px;line-height:16px;color:#fff;letter-spacing:-0.25px;white-space:nowrap">Rebate Program Services</div>
<div class="abs" style="left:436px;top:2539.5px;font-size:13px;line-height:16px;color:#fff;letter-spacing:-0.25px;white-space:nowrap">Trading Platforms</div>
<div class="abs" style="left:436px;top:2559.5px;font-size:13px;line-height:16px;color:#fff;letter-spacing:-0.25px;white-space:nowrap">Expert Advisors</div>
<div class="abs" style="left:436px;top:2579.5px;font-size:13px;line-height:16px;color:#fff;letter-spacing:-0.25px;white-space:nowrap">Crypto Exchanges</div>
<div class="abs" style="left:615.5px;top:2358px;font-size:15px;line-height:18px;color:#9a9a9a;letter-spacing:-0.3px;white-space:nowrap">Brokers</div>
<div class="abs" style="left:615.5px;top:2379.5px;font-size:13px;line-height:16px;color:#fff;letter-spacing:-0.25px;white-space:nowrap">Forex Spreads</div>
<div class="abs" style="left:615.5px;top:2399.5px;font-size:13px;line-height:16px;color:#fff;letter-spacing:-0.25px;white-space:nowrap">Forex Broker Quotes</div>
<div class="abs" style="left:615.5px;top:2419.5px;font-size:13px;line-height:16px;color:#fff;letter-spacing:-0.25px;white-space:nowrap">Forex Broker Swaps</div>
<div class="abs" style="left:615.5px;top:2439.5px;font-size:13px;line-height:16px;color:#fff;letter-spacing:-0.25px;white-space:nowrap">Forex Broker Volume</div>
<div class="abs" style="left:615.5px;top:2459.5px;font-size:13px;line-height:16px;color:#fff;letter-spacing:-0.25px;white-space:nowrap">Forex Broker Promotions</div>
<div class="abs" style="left:615.5px;top:2479.5px;font-size:13px;line-height:16px;color:#fff;letter-spacing:-0.25px;white-space:nowrap">Broker News</div>
<div class="abs" style="left:794.5px;top:2358px;font-size:15px;line-height:18px;color:#9a9a9a;letter-spacing:-0.3px;white-space:nowrap">Platform</div>
<div class="abs" style="left:794.5px;top:2379.5px;font-size:13px;line-height:16px;color:#f08a24;letter-spacing:-0.25px;white-space:nowrap">Widgets</div>
<div class="abs" style="left:794.5px;top:2399.5px;font-size:13px;line-height:16px;color:#fff;letter-spacing:-0.25px;white-space:nowrap">Features</div>
<div class="abs" style="left:794.5px;top:2419.5px;font-size:13px;line-height:16px;color:#fff;letter-spacing:-0.25px;white-space:nowrap">API</div>
<div class="abs" style="left:794.5px;top:2439.5px;font-size:13px;line-height:16px;color:#fff;letter-spacing:-0.25px;white-space:nowrap">RSS</div>
<div class="abs" style="left:794.5px;top:2459.5px;font-size:13px;line-height:16px;color:#fff;letter-spacing:-0.25px;white-space:nowrap">Stock Portfolio</div>
<div class="abs" style="left:794.5px;top:2479.5px;font-size:13px;line-height:16px;color:#fff;letter-spacing:-0.25px;white-space:nowrap">Affiliate Software</div>
<div class="abs" style="left:794.5px;top:2499.5px;font-size:13px;line-height:16px;color:#fff;letter-spacing:-0.25px;white-space:nowrap">Advanced Charts</div>
<div class="abs" style="left:974px;top:2358px;font-size:15px;line-height:18px;color:#9a9a9a;letter-spacing:-0.3px;white-space:nowrap">Support</div>
<div class="abs" style="left:974px;top:2379.5px;font-size:13px;line-height:16px;color:#fff;letter-spacing:-0.25px;white-space:nowrap">FAQ</div>
<div class="abs" style="left:974px;top:2399.5px;font-size:13px;line-height:16px;color:#fff;letter-spacing:-0.25px;white-space:nowrap">Help</div>
<div class="abs" style="left:974px;top:2419.5px;font-size:13px;line-height:16px;color:#fff;letter-spacing:-0.25px;white-space:nowrap">Contact Us</div>
<div class="abs" style="left:974px;top:2439.5px;font-size:13px;line-height:16px;color:#fff;letter-spacing:-0.25px;white-space:nowrap">Report a Bug!</div>
<div class="abs" style="left:974px;top:2459.5px;font-size:13px;line-height:16px;color:#fff;letter-spacing:-0.25px;white-space:nowrap">About</div>
<div class="abs" style="left:974px;top:2479.5px;font-size:13px;line-height:16px;color:#fff;letter-spacing:-0.25px;white-space:nowrap">Blog</div>
<svg class="abs" style="left:77px;top:2711px" width="81" height="31" viewBox="0 0 81 31"><rect x="0" y="0" width="30.3" height="30.3" rx="5" fill="#7e7e86"/><path d="M10.7 30.3V19.9H7.2V14.5H10.7V11.5C10.7 7 13.5 4.3 18 4.3C20 4.3 21.8 4.6 23 4.900L23 9.800H20.500C18.300 9.800 17.600 10.900 17.600 12.600V14.500H22.600L21.800 19.900H17.600V30.300Z" fill="#28282e"/><rect x="50" y="0" width="30.3" height="30.3" rx="5" fill="#7e7e86"/><path d="M54.900 5.700H61.800L74.800 24.500H67.900ZM58.400 7.500L68.900 22.700H71.300L60.800 7.500Z" fill="#28282e" fill-rule="evenodd"/><path d="M72.200 5.700H74.500L57.300 24.500H55Z" fill="#28282e"/></svg>
<div class="abs" style="left:77.5px;top:2756px;font-size:15px;line-height:18px;color:#86868d;letter-spacing:-0.33px;white-space:nowrap;word-spacing:1.3px">Terms | Privacy | Site Map | Site Map Calendar</div>
<div class="abs" style="left:583px;top:2744px;width:119px;height:40px;border-radius:5px;background:#000;border:1px solid #7a7a7a;color:#fff;letter-spacing:0"><svg class="abs" style="left:6px;top:6px" width="20" height="26" viewBox="0 0 20 26"><path d="M14 7.200c-1.500 0-2.500 0.900-3.700 0.900-1.100 0-2.300-0.900-3.800-0.900C3.900 7.200 1 9.500 1 13.800c0 4.500 3.100 9.700 5.400 9.700 1.200 0 2-0.800 3.600-0.800 1.600 0 2.100 0.800 3.500 0.800 2.400 0 4.500-4 5-5.700-2.600-1.100-3.300-5-0.300-7.200C17.300 8.300 15.500 7.200 14 7.200zM13.600 1.400c-1.900 0.300-3.700 2.300-3.400 4.600 2.100 0 3.800-2.200 3.400-4.600z" fill="#fff"/></svg><div class="abs" style="left:32.5px;top:5.7px;font-size:10px;line-height:10px;white-space:nowrap;letter-spacing:0px;color:#f0f0f0">Download on the</div><div class="abs b" style="left:32.5px;top:17.3px;font-size:13.5px;line-height:14px;white-space:nowrap;letter-spacing:-0.12px">App Store</div></div>
<div class="abs" style="left:723px;top:2744px;width:119px;height:40px;border-radius:5px;background:#000;border:1px solid #7a7a7a;color:#fff;letter-spacing:0"><svg class="abs" style="left:6.5px;top:7px" width="21" height="25" viewBox="0 0 21 25"><path d="M1 1.500L11.500 12.500L1 23.500Z" fill="#29b6f6"/><path d="M1 1.500L15 9.700L11.500 12.500Z" fill="#4caf50"/><path d="M1 23.500L15 15.300L11.500 12.500Z" fill="#f44336"/><path d="M15 9.700L20.500 12.500L15 15.300L11.500 12.500Z" fill="#ffc107"/></svg><div class="abs" style="left:33px;top:5.7px;font-size:10px;line-height:10px;white-space:nowrap;letter-spacing:0px;color:#f0f0f0">Get it On</div><div class="abs b" style="left:33px;top:17.3px;font-size:13.5px;line-height:14px;white-space:nowrap;letter-spacing:-0.12px">Google Play</div></div>
<div class="abs" style="left:863px;top:2744px;width:119px;height:40px;border-radius:5px;background:#000;border:1px solid #7a7a7a;color:#fff;letter-spacing:0"><svg class="abs" style="left:6.5px;top:7.500px" width="23" height="23" viewBox="0 0 23 23"><rect width="23" height="23" rx="5" fill="#d3122a"/><path d="M8 4.500c0 4 7 4 7 0" stroke="#fff" stroke-width="0.9" fill="none"/><text x="11.500" y="15.500" font-size="4.200" font-weight="bold" fill="#fff" text-anchor="middle" font-family="Liberation Sans, sans-serif">HUAWEI</text></svg><div class="abs" style="left:36.5px;top:5.7px;font-size:10px;line-height:10px;white-space:nowrap;letter-spacing:0px;color:#f0f0f0">Explore It On</div><div class="abs b" style="left:36.5px;top:17.3px;font-size:13.5px;line-height:14px;white-space:nowrap;letter-spacing:-0.12px">App Gallery</div></div>
<div class="abs" style="left:1003px;top:2744px;width:119px;height:40px;border-radius:5px;background:#000;border:1px solid #7a7a7a;color:#fff;letter-spacing:0"><svg class="abs" style="left:6.5px;top:7.500px" width="23" height="23" viewBox="0 0 24 24"><circle cx="12" cy="12" r="11.500" fill="#fbc02d"/><path d="M12 12L2 6.300A11.500 11.500 0 0 1 22 6.300Z" fill="#e53935"/><path d="M12 12L2 6.300A11.500 11.500 0 0 0 12 23.500L17 14Z" fill="#43a047"/><path d="M12 6.500H22.100A11.500 11.500 0 0 0 2 6.300L7 14Z" fill="#e53935"/><circle cx="12" cy="12" r="5.500" fill="#fff"/><circle cx="12" cy="12" r="4.300" fill="#4285f4"/></svg><div class="abs" style="left:35px;top:6.7px;font-size:10px;line-height:10px;white-space:nowrap;letter-spacing:0px;color:#f0f0f0">Chrome</div><div class="abs b" style="left:35px;top:17.3px;font-size:13.5px;line-height:14px;white-space:nowrap;letter-spacing:-0.12px">Extension</div></div>
<div class="abs" style="left:77.5px;top:2795px;font-size:13px;line-height:16px;color:#66666b;letter-spacing:-0.15px;white-space:nowrap">&copy; 2024 Myfxbook Ltd. All Rights Reserved.</div>
<div class="abs" style="left:77.5px;top:2813.5px;width:1060px;font-size:13px;line-height:18.4px;color:#5a5a5f;letter-spacing:-0.09px;white-space:nowrap"><span style="letter-spacing:-0.09px">HIGH RISK WARNING: Foreign exchange trading carries a high level of risk that may not be suitable for all investors. Leverage creates additional risk and loss exposure. Before you</span><br><span style="letter-spacing:0.04px">decide to trade foreign exchange, carefully consider your investment objectives, experience level, and risk tolerance. You could lose some or all of your initial investment. Do not</span><br><span style="letter-spacing:0.046px">invest money that you cannot afford to lose. Educate yourself on the risks associated with foreign exchange trading, and seek advice from an independent financial or tax advisor if</span><br><span style="letter-spacing:0.06px">you have any questions. Any data and information is provided 'as is' solely for informational purposes, and is not intended for trading purposes or advice. Past performance is not</span><br><span style="letter-spacing:0.09px">indicative of future results.</span></div>
<div class="abs" style="left:90px;top:952px;width:1016px;height:48px;background:#17171a;overflow:hidden;color:#fff;letter-spacing:0">
<div class="abs" style="left:15.5px;top:6px;font-size:12px;line-height:14px;white-space:nowrap;letter-spacing:-0.35px">EURUSD</div>
<div class="abs" style="left:70px;top:2.5px;width:52px;height:21px;border-radius:2.5px;background:#17984a;font-size:13.5px;line-height:22px;text-align:center;letter-spacing:-0.3px">1.11275</div>
<div class="abs" style="left:139px;top:6px;font-size:12px;line-height:14px;white-space:nowrap;letter-spacing:-0.35px">GBPUSD</div>
<div class="abs" style="left:195px;top:2.5px;width:52px;height:21px;border-radius:2.5px;background:#e03a4b;font-size:13.5px;line-height:22px;text-align:center;letter-spacing:-0.3px">1.33238</div>
<div class="abs" style="left:264px;top:6px;font-size:12px;line-height:14px;white-space:nowrap;letter-spacing:-0.35px">AUDUSD</div>
<div class="abs" style="left:320.5px;top:2.5px;width:52px;height:21px;border-radius:2.5px;background:#e03a4b;font-size:13.5px;line-height:22px;text-align:center;letter-spacing:-0.3px">0.68369</div>
<div class="abs" style="left:15.5px;top:29px;font-size:12px;line-height:14px;white-space:nowrap;letter-spacing:-0.35px">USDJPY</div>
<div class="abs" style="left:70px;top:25.5px;width:52px;height:21px;border-radius:2.5px;background:#17984a;font-size:13.5px;line-height:22px;text-align:center;letter-spacing:-0.3px">143.816</div>
<div class="abs" style="left:139px;top:29px;font-size:12px;line-height:14px;white-space:nowrap;letter-spacing:-0.35px">USDCAD</div>
<div class="abs" style="left:195px;top:25.5px;width:52px;height:21px;border-radius:2.5px;background:#17984a;font-size:13.5px;line-height:22px;text-align:center;letter-spacing:-0.3px">1.35379</div>
<div class="abs" style="left:264px;top:29px;font-size:12px;line-height:14px;white-space:nowrap;letter-spacing:-0.35px">USDCHF</div>
<div class="abs" style="left:320.5px;top:25.5px;width:52px;height:21px;border-radius:2.5px;background:#17984a;font-size:13.5px;line-height:22px;text-align:center;letter-spacing:-0.3px">0.84975</div>
<div class="abs" style="left:386px;top:8px;width:1px;height:34px;background:#555"></div>
<div class="abs" style="left:402px;top:8.6px;font-size:12.5px;line-height:14px;color:#ddd;letter-spacing:-0.3px">Events</div>
<div class="abs" style="left:402px;top:26.6px;font-size:12.5px;line-height:14px;color:#ddd;letter-spacing:-0.3px">News</div>
<div class="abs" style="left:446.5px;top:8.7px;width:567.5px;overflow:hidden;white-space:nowrap;font-size:12.5px;line-height:14px;color:#bbb;letter-spacing:-0.3px"><span style="display:inline-block;width:6px;height:6px;border-radius:3px;background:#7a2530;vertical-align:3.5px;margin-right:3px"></span>S&amp;P Global Manufacturing PMI<span style="color:#777;font-size:11px;margin:0 10px 0 7px">25 min</span><span style="display:inline-block;width:6px;height:6px;border-radius:3px;background:#e8414e;vertical-align:3.5px;margin-right:3px"></span>S&amp;P Global Services PMI<span style="color:#777;font-size:11px;margin:0 10px 0 7px">25 min</span><span style="display:inline-block;width:6px;height:6px;border-radius:3px;background:#f0a030;vertical-align:3.5px;margin-right:3px"></span>S&amp;P Global Composite PMI</div>
<div class="abs" style="left:447px;top:26px;width:567px;overflow:hidden;white-space:nowrap;font-size:12.5px;line-height:14px;color:#bbb;letter-spacing:-0.5px"><span style="margin-left:-11px">USDCHF, AUDUSD, EURUSD</span><span style="color:#666;margin:0 10px">|</span>EBC Daily Snapshot Sep 23, 2024<span style="color:#666;margin:0 10px">|</span>Euro sinks on poor PMIs, dollar firms</div>
<div class="abs" style="left:446px;top:0;width:22px;height:48px;background:linear-gradient(90deg,#17171a,rgba(23,23,26,0))"></div>
<div class="abs" style="right:0;top:0;width:40px;height:48px;background:linear-gradient(270deg,#17171a,rgba(23,23,26,0))"></div>
</div>
</body></html>
